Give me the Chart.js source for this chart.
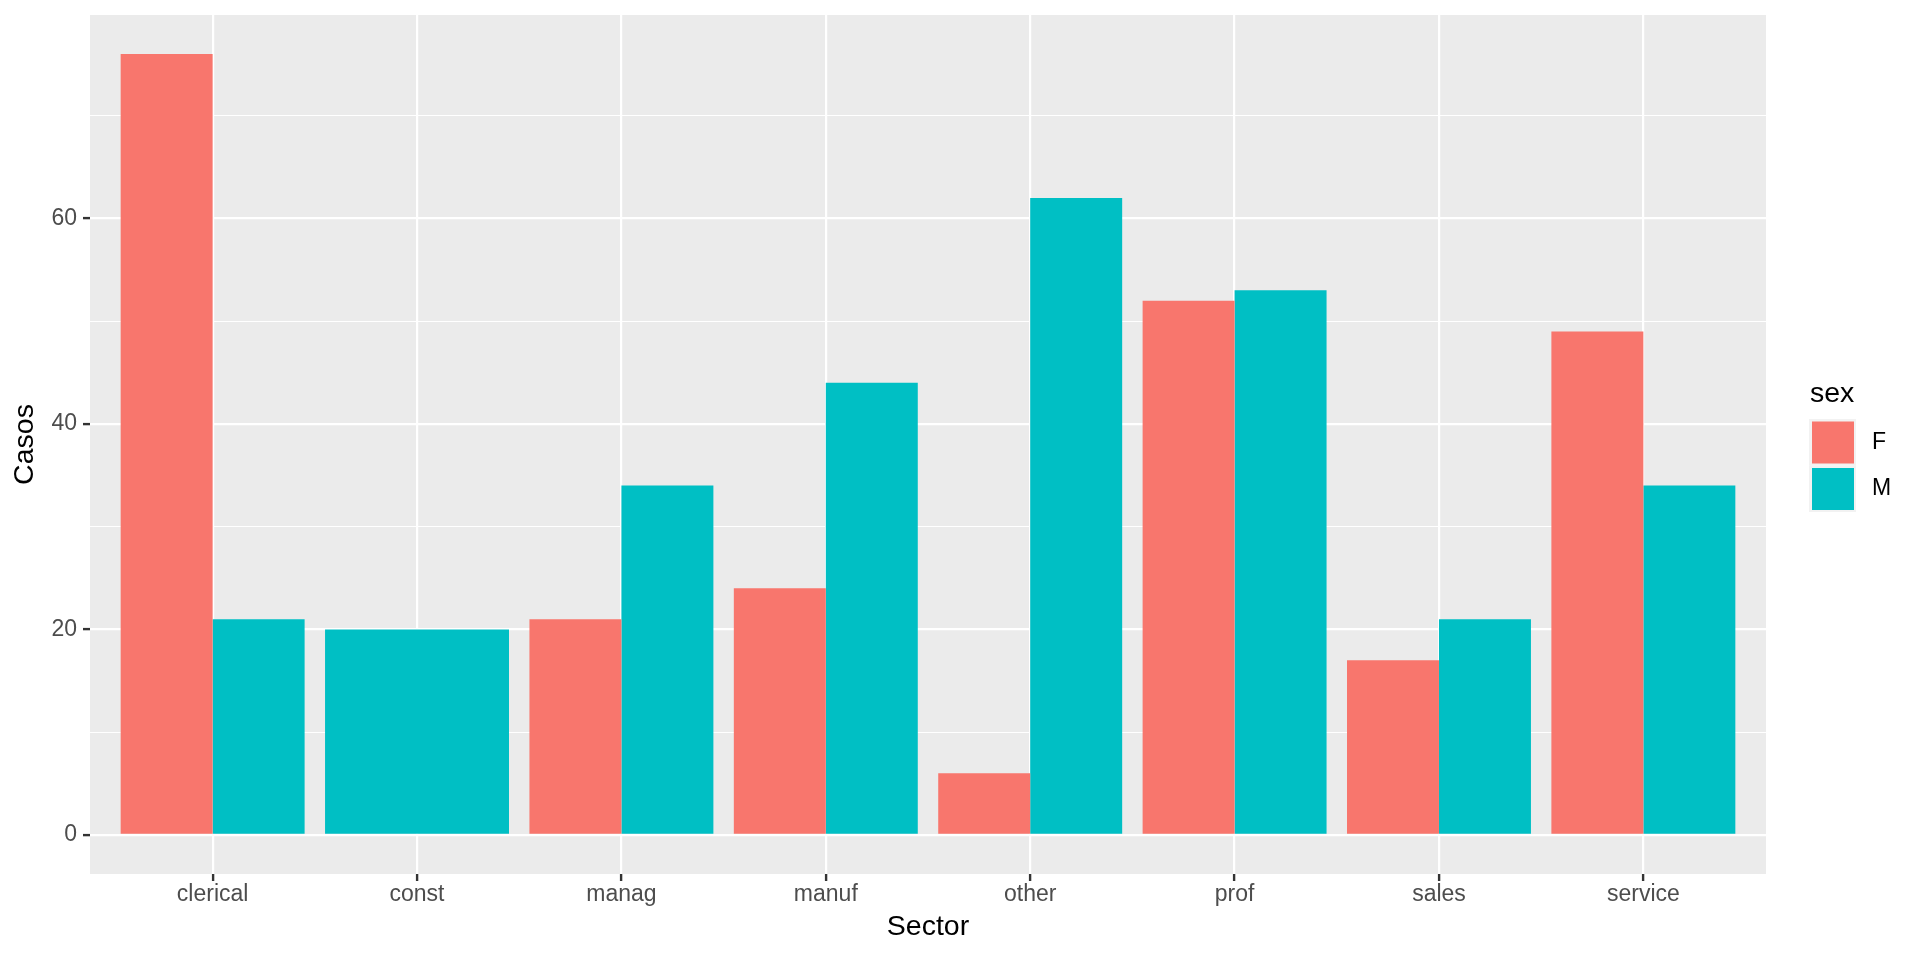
<!DOCTYPE html>
<html>
<head>
<meta charset="utf-8">
<title>Casos por sector</title>
<script src="https://cdn.jsdelivr.net/npm/chart.js@4/dist/chart.umd.min.js"></script>
<style>
  html, body { margin: 0; padding: 0; background: #ffffff; }
  #wrap { width: 1920px; height: 960px; }
</style>
</head>
<body>
<div id="wrap"><canvas id="myChart" width="1920" height="960"></canvas></div>
<script>
"use strict"

// data
const categories = ['clerical', 'const', 'manag', 'manuf', 'other', 'prof', 'sales', 'service'];
const seriesF = [76, null, 21, 24, 6, 52, 17, 49];
const seriesM = [21, 20, 34, 44, 62, 53, 21, 34];
const yTicks = [0, 20, 40, 60];
const legendTitle = 'sex';

const fontFamily = '"Liberation Sans", Arial, Helvetica, sans-serif';

// x is a linear scale 1..8 so the side padding can be 0.6 of a category like ggplot
function toPoints(values) {
    return values.map((v, i) => ({ x: i + 1, y: v }));
}

const panelBackground = {
    id: 'panelBackground',
    beforeDraw(chart) {
        const a = chart.chartArea;
        const ctx = chart.ctx;
        ctx.save();
        ctx.fillStyle = '#EBEBEB';
        ctx.fillRect(a.left, a.top, a.right - a.left, a.bottom - a.top);
        ctx.restore();
    }
};

const sideLegend = {
    id: 'sideLegend',
    afterDraw(chart) {
        const ctx = chart.ctx;
        ctx.save();
        ctx.fillStyle = '#000000';
        ctx.font = '28.5px ' + fontFamily;
        ctx.textBaseline = 'alphabetic';
        ctx.textAlign = 'left';
        ctx.fillText(legendTitle, 1810, 402);

        chart.data.datasets.forEach((ds, i) => {
            const y = 419 + i * 46.5;
            ctx.fillStyle = '#F2F2F2';
            ctx.fillRect(1809, y, 47, 46.5);
            ctx.fillStyle = ds.backgroundColor;
            ctx.fillRect(1812, y + 2.5, 42, 42);
            ctx.fillStyle = '#000000';
            ctx.font = '23px ' + fontFamily;
            ctx.textBaseline = 'middle';
            ctx.fillText(ds.label, 1872, y + 23.5);
        });
        ctx.restore();
    }
};

const isMajorY = (v) => yTicks.includes(v);

let myChart = new Chart(document.getElementById('myChart'), {
    type: 'bar',
    data: {
        datasets: [
            {
                label: 'F',
                data: toPoints(seriesF),
                backgroundColor: '#F8766D',
                borderWidth: 0,
            },
            {
                label: 'M',
                data: toPoints(seriesM),
                backgroundColor: '#00BFC4',
                borderWidth: 0,
            }
        ]
    },
    options: {
        responsive: false,
        animation: false,
        skipNull: true,
        categoryPercentage: 0.9,
        barPercentage: 1.0,
        layout: {
            autoPadding: false,
            padding: { left: 0, top: 15, right: 154, bottom: 0 }
        },
        plugins: {
            legend: { display: false },
            tooltip: { enabled: false },
        },
        scales: {
            x: {
                type: 'linear',
                min: 0.4,
                max: 8.6,
                offset: false,
                border: { display: false },
                grid: {
                    offset: false,
                    color: '#FFFFFF',
                    lineWidth: 2.2,
                    tickLength: 7,
                    tickColor: '#333333',
                    tickWidth: 2.4,
                },
                ticks: {
                    stepSize: 1,
                    includeBounds: false,
                    autoSkip: false,
                    maxRotation: 0,
                    padding: 0,
                    color: '#4D4D4D',
                    font: { family: fontFamily, size: 23 },
                    callback: (v) => categories[v - 1] || '',
                },
                title: {
                    display: true,
                    text: 'Sector',
                    color: '#000000',
                    font: { family: fontFamily, size: 28.5 },
                    padding: { top: 0, bottom: 16 },
                },
                afterFit(scale) {
                    scale.height = 86;
                    scale.paddingLeft = 0;
                    scale.paddingRight = 0;
                },
            },
            y: {
                min: -3.8,
                max: 79.8,
                border: { display: false },
                grid: {
                    color: '#FFFFFF',
                    lineWidth: (ctx) => isMajorY(ctx.tick.value) ? 2.2 : 1.1,
                    tickLength: 7,
                    tickColor: (ctx) => isMajorY(ctx.tick.value) ? '#333333' : 'rgba(0,0,0,0)',
                    tickWidth: 2.4,
                },
                ticks: {
                    stepSize: 10,
                    includeBounds: false,
                    padding: 6,
                    color: '#4D4D4D',
                    font: { family: fontFamily, size: 23 },
                    callback: (v) => isMajorY(v) ? String(v) : '',
                },
                title: {
                    display: true,
                    text: 'Casos',
                    color: '#000000',
                    font: { family: fontFamily, size: 28.5 },
                    padding: { top: 8, bottom: 0 },
                },
                afterFit(scale) {
                    scale.width = 90;
                    scale.paddingTop = 0;
                    scale.paddingBottom = 0;
                },
            }
        }
    },
    plugins: [panelBackground, sideLegend]
});
</script>
</body>
</html>
